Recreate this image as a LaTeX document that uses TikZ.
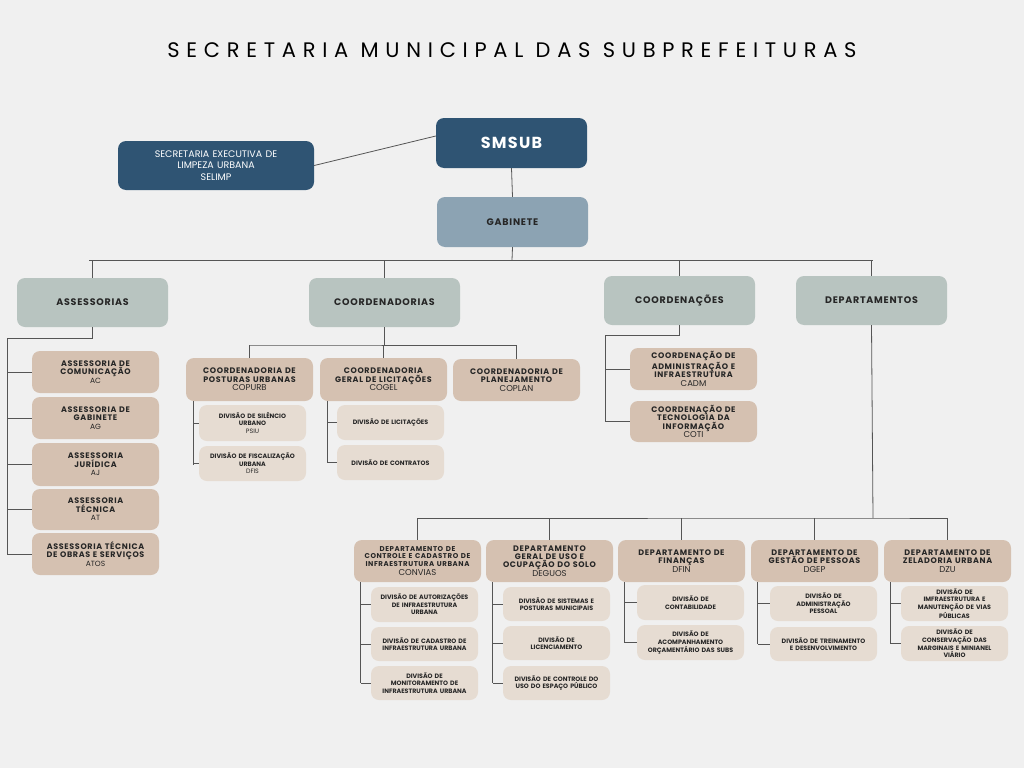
\documentclass[tikz,border=0pt]{standalone}
\usepackage{fontspec}
\setmainfont{Poppins}
\newfontfamily\titlefont[LetterSpace=32]{Poppins}
\newfontfamily\hdfont[LetterSpace=8,BoldFont=* Bold]{Poppins}
\definecolor{bg}{HTML}{F0F0F0}
\definecolor{dblue}{HTML}{2F5473}
\definecolor{gab}{HTML}{8CA3B3}
\definecolor{sage}{HTML}{B8C4C0}
\definecolor{tan}{HTML}{D5C1B1}
\definecolor{ltan}{HTML}{E6DCD2}
\definecolor{ln}{HTML}{555555}
\newcommand\bx[7]{\node[bxs,#2,minimum width={#5pt-#3pt},minimum height={#6pt-#4pt},text width={#5pt-#3pt-6pt}] (#1) at ({(#3+#5)/2},{(#4+#6)/2}) {#7};}
\newcommand\lv[2]{{\hdfont\bfseries\fontsize{#1}{#1}\selectfont #2}}
\newcommand\sm[1]{{\fontsize{8.5}{9}\selectfont #1}}
\begin{document}
\begin{tikzpicture}[x=1pt,y=-1pt,
 bxs/.style={rounded corners=8pt,inner sep=0pt,align=center},
 top/.style={fill=dblue,text=white},
 gabs/.style={fill=gab,text=black!85},
 l1/.style={fill=sage,text=black!85},
 l2/.style={fill=tan,text=black!85,font=\fontsize{8}{8.6}\selectfont},
 l3/.style={fill=ltan,text=black!85,font=\fontsize{6.3}{7.6}\selectfont},
 cn/.style={draw=ln,line width=0.8pt}]
\fill[bg] (0,0) rectangle (1024,768);
\node at (512,50) {\titlefont\fontsize{21}{21}\selectfont SECRETARIA MUNICIPAL DAS SUBPREFEITURAS};
\bx{smsub}{top}{436}{118}{587}{168}{\lv{16}{SMSUB}}
\bx{selimp}{top}{118}{141}{314}{190}{\fontsize{9.5}{11}\selectfont SECRETARIA EXECUTIVA DE\\LIMPEZA URBANA\\SELIMP}
\bx{gabinete}{gabs}{437}{197}{588}{247}{\lv{9.5}{GABINETE}}
\bx{ass}{l1}{17}{278}{168}{327}{\lv{9.5}{ASSESSORIAS}}
\bx{coord}{l1}{309}{278}{460}{327}{\lv{9.5}{COORDENADORIAS}}
\bx{coorde}{l1}{604}{276}{755}{325}{\lv{9.5}{COORDENAÇÕES}}
\bx{dep}{l1}{796}{276}{947}{325}{\lv{9.5}{DEPARTAMENTOS}}
% assessorias
\bx{ac}{l2}{32}{351}{159}{393}{\lv{8}{ASSESSORIA DE\\COMUNICAÇÃO}\\\fontsize{7.5}{8}\selectfont AC}
\bx{ag}{l2}{32}{397}{159}{439}{\lv{8}{ASSESSORIA DE\\GABINETE}\\\fontsize{7.5}{8}\selectfont AG}
\bx{aj}{l2}{32}{443}{159}{486}{\lv{8}{ASSESSORIA\\JURÍDICA}\\\fontsize{7.5}{8}\selectfont AJ}
\bx{at}{l2}{32}{489}{159}{530}{\lv{8}{ASSESSORIA\\TÉCNICA}\\\fontsize{7.5}{8}\selectfont AT}
\bx{atos}{l2}{32}{533}{159}{575}{\lv{8}{ASSESSORIA TÉCNICA\\DE OBRAS E SERVIÇOS}\\\fontsize{7.5}{8}\selectfont ATOS}
% coordenadorias
\bx{copurb}{l2}{186}{358}{313}{401}{\lv{8}{COORDENADORIA DE\\POSTURAS URBANAS}\\\sm{COPURB}}
\bx{cogel}{l2}{320}{358}{447}{401}{\lv{8}{COORDENADORIA\\GERAL DE LICITAÇÕES}\\\sm{COGEL}}
\bx{coplan}{l2}{453}{359}{580}{401}{\lv{8}{COORDENADORIA DE\\PLANEJAMENTO}\\\sm{COPLAN}}
\bx{psiu}{l3}{199}{405}{306}{441}{\textbf{DIVISÃO DE SILÊNCIO\\URBANO}\\PSIU}
\bx{dfis}{l3}{199}{446}{306}{481}{\textbf{DIVISÃO DE FISCALIZAÇÃO\\URBANA}\\DFIS}
\bx{lic}{l3}{337}{405}{444}{440}{\textbf{DIVISÃO DE LICITAÇÕES}}
\bx{cont}{l3}{337}{445}{444}{480}{\textbf{DIVISÃO DE CONTRATOS}}
% coordenacoes
\bx{cadm}{l2}{630}{348}{757}{390}{\lv{8}{COORDENAÇÃO DE\\ADMINISTRAÇÃO E\\INFRAESTRUTURA}\\\sm{CADM}}
\bx{coti}{l2}{630}{401}{757}{442}{\lv{8}{COORDENAÇÃO DE\\TECNOLOGIA DA\\INFORMAÇÃO}\\\sm{COTI}}
% departamentos
\bx{convias}{l2}{354}{540}{481}{582}{\lv{7}{DEPARTAMENTO DE\\CONTROLE E CADASTRO DE\\INFRAESTRUTURA URBANA}\\\sm{CONVIAS}}
\bx{deguos}{l2}{486}{540}{613}{582}{\lv{8}{DEPARTAMENTO\\GERAL DE USO E\\OCUPAÇÃO DO SOLO}\\\sm{DEGUOS}}
\bx{dfin}{l2}{618}{540}{745}{582}{\lv{8}{DEPARTAMENTO DE\\FINANÇAS}\\\sm{DFIN}}
\bx{dgep}{l2}{751}{540}{878}{582}{\lv{8}{DEPARTAMENTO DE\\GESTÃO DE PESSOAS}\\\sm{DGEP}}
\bx{dzu}{l2}{884}{540}{1011}{582}{\lv{8}{DEPARTAMENTO DE\\ZELADORIA URBANA}\\\sm{DZU}}
\bx{c1}{l3}{371}{587}{478}{622}{\textbf{DIVISÃO DE AUTORIZAÇÕES\\DE INFRAESTRUTURA\\URBANA}}
\bx{c2}{l3}{371}{627}{478}{661}{\textbf{DIVISÃO DE CADASTRO DE\\INFRAESTRUTURA URBANA}}
\bx{c3}{l3}{371}{666}{478}{700}{\textbf{DIVISÃO DE\\MONITORAMENTO DE\\INFRAESTRUTURA URBANA}}
\bx{d1}{l3}{503}{587}{610}{621}{\textbf{DIVISÃO DE SISTEMAS E\\POSTURAS MUNICIPAIS}}
\bx{d2}{l3}{503}{626}{610}{660}{\textbf{DIVISÃO DE\\LICENCIAMENTO}}
\bx{d3}{l3}{503}{666}{610}{700}{\textbf{DIVISÃO DE CONTROLE DO\\USO DO ESPAÇO PÚBLICO}}
\bx{f1}{l3}{637}{585}{744}{620}{\textbf{DIVISÃO DE\\CONTABILIDADE}}
\bx{f2}{l3}{637}{625}{744}{660}{\textbf{DIVISÃO DE\\ACOMPANHAMENTO\\ORÇAMENTÁRIO DAS SUBS}}
\bx{g1}{l3}{770}{586}{877}{621}{\textbf{DIVISÃO DE\\ADMINISTRAÇÃO\\PESSOAL}}
\bx{g2}{l3}{770}{627}{877}{661}{\textbf{DIVISÃO DE TREINAMENTO\\E DESENVOLVIMENTO}}
\bx{z1}{l3}{901}{586}{1008}{621}{\textbf{DIVISÃO DE\\IMFRAESTRUTURA E\\MANUTENÇÃO DE VIAS\\PÚBLICAS}}
\bx{z2}{l3}{901}{626}{1008}{661}{\textbf{DIVISÃO DE\\CONSERVAÇÃO DAS\\MARGINAIS E MINIANEL\\VIÁRIO}}
% connectors
\draw[cn] (smsub.west) ++(0,-7) -- (selimp.east);
\draw[cn] (smsub.south) -- (gabinete.north);
\coordinate (busL) at (89,260);
\coordinate (busR) at (873,260);
\draw[cn] (gabinete.south) -- (512,260);
\draw[cn] (busL) -- (busR);
\foreach \n in {ass,coord,coorde,dep} \draw[cn] (\n.north |- busL) -- (\n.north);
% assessorias
\coordinate (av) at (7,554);
\draw[cn] (ass.south) -- ++(0,11) -| (av);
\foreach \n in {ac,ag,aj,at,atos} \draw[cn] (av |- \n.west) -- (\n.west);
% coordenadorias
\coordinate (cb) at (250,345);
\draw[cn] (coord.south) -- (coord.south |- cb);
\draw[cn] (copurb.north) |- (cb) -| (coplan.north);
\draw[cn] (cogel.north) -- (cogel.north |- cb);
\coordinate (pv) at (193,465);
\draw[cn] (pv |- copurb.south) -- (pv);
\foreach \n in {psiu,dfis} \draw[cn] (pv |- \n.west) -- (\n.west);
\coordinate (gv) at (327,463);
\draw[cn] (gv |- cogel.south) -- (gv);
\foreach \n in {lic,cont} \draw[cn] (gv |- \n.west) -- (\n.west);
% coordenacoes
\coordinate (ov) at (605,421);
\draw[cn] (coorde.south) -- ++(0,10) -| (ov);
\foreach \n in {cadm,coti} \draw[cn] (ov |- \n.west) -- (\n.west);
% departamentos
\coordinate (db) at (873,518);
\draw[cn] (dep.south) -- (db);
\draw[cn] (convias.north) |- (db) -| (dzu.north);
\foreach \n in {deguos,dfin,dgep} \draw[cn] (\n.north) -- (\n.north |- db);
\newcommand\sub[3]{\coordinate (#1v) at ([xshift=7pt]#2.south west |- #3.west);
 \draw[cn] ([xshift=7pt]#2.south west) -- (#1v);}
\sub{cv}{convias}{c3}\foreach \n in {c1,c2,c3} \draw[cn] (cvv |- \n.west) -- (\n.west);
\sub{dg}{deguos}{d3}\foreach \n in {d1,d2,d3} \draw[cn] (dgv |- \n.west) -- (\n.west);
\sub{fn}{dfin}{f2}\foreach \n in {f1,f2} \draw[cn] (fnv |- \n.west) -- (\n.west);
\sub{gp}{dgep}{g2}\foreach \n in {g1,g2} \draw[cn] (gpv |- \n.west) -- (\n.west);
\sub{zu}{dzu}{z2}\foreach \n in {z1,z2} \draw[cn] (zuv |- \n.west) -- (\n.west);
\end{tikzpicture}
\end{document}
